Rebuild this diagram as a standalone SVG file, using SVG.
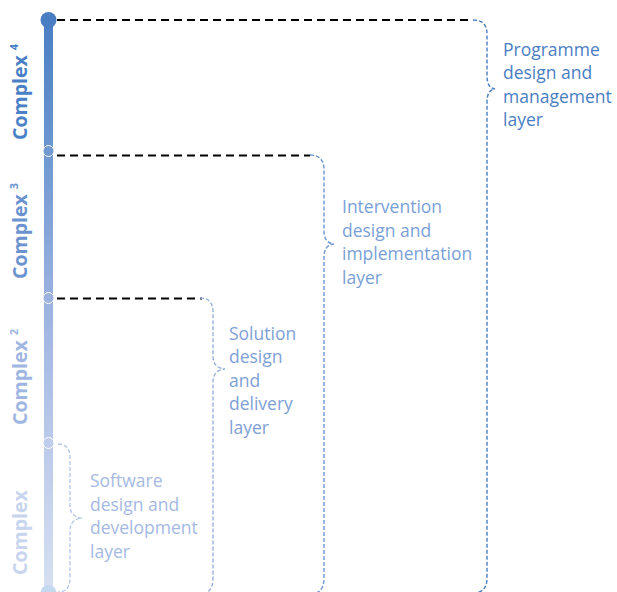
<svg xmlns="http://www.w3.org/2000/svg" width="617" height="592" viewBox="0 0 617 592">
<defs>
<linearGradient id="barGrad" x1="0" y1="20" x2="0" y2="592" gradientUnits="userSpaceOnUse">
<stop offset="0" stop-color="#4a7ec3"/>
<stop offset="0.25" stop-color="#7199d2"/>
<stop offset="0.5" stop-color="#9cb3e0"/>
<stop offset="0.75" stop-color="#bccbea"/>
<stop offset="1" stop-color="#d6e0f1"/>
</linearGradient>
</defs>
<style>
.lbl{font-family:"Open Sans","Noto Sans",sans-serif;font-size:17.5px}
.cx{font-family:"Open Sans","Noto Sans",sans-serif;font-size:19.5px;font-weight:bold}
.sup{font-size:11px}
.lead{fill:none;stroke:#000;stroke-width:2;stroke-dasharray:8 5}
.brace{fill:none;stroke-width:1.4;stroke-dasharray:4 2}
</style>
<g id="scale">
<rect x="44" y="20" width="9" height="572" fill="url(#barGrad)"/>
<circle cx="48.5" cy="20" r="8" fill="#4a7ec3"/>
<circle cx="48.5" cy="151" r="5.5" fill="#7199d2" stroke="#fff" stroke-width="1"/>
<circle cx="48.5" cy="298" r="5.5" fill="#9cb3e0" stroke="#fff" stroke-width="1"/>
<circle cx="48.5" cy="443" r="5.5" fill="#bdcdeb" stroke="#fff" stroke-width="1"/>
<circle cx="48.5" cy="593" r="8" fill="#c5d9ee"/>
</g>
<g id="complex-labels">
<text class="cx" fill="#4a80c6" transform="translate(27,140) rotate(-90)">Complex <tspan class="sup" dy="-9">4</tspan></text>
<text class="cx" fill="#6b93d0" transform="translate(27,279) rotate(-90)">Complex <tspan class="sup" dy="-9">3</tspan></text>
<text class="cx" fill="#a0b6e2" transform="translate(27,425) rotate(-90)">Complex <tspan class="sup" dy="-9">2</tspan></text>
<text class="cx" fill="#c8d5ee" transform="translate(27,575) rotate(-90)">Complex</text>
</g>
<g id="connectors">
<line class="lead" x1="57" y1="20" x2="470" y2="20"/>
<line class="lead" x1="57" y1="155.5" x2="310" y2="155.5"/>
<line class="lead" x1="57" y1="298.5" x2="202" y2="298.5"/>
<path class="brace" stroke="#4a7ec3" d="M473,20 Q487,20 487,34 L487,76 Q487,88 495,89 Q487,90 487,102 L487,578 Q487,593 473,593"/>
<path class="brace" stroke="#6f96d2" d="M310,155 Q324,155 324,170 L324,231 Q324,243 334,244 Q324,245 324,257 L324,578 Q324,594 310,594"/>
<path class="brace" stroke="#98b0df" d="M200,298 Q213,298 213,312 L213,356 Q213,368 225,369 Q213,370 213,382 L213,578 Q213,594 200,594"/>
<path class="brace" stroke="#b9c9ea" d="M58,444 Q70,444 70,458 L70,505 Q70,517 82,518 Q70,519 70,531 L70,578 Q70,592 58,592"/>
</g>
<g id="programme">
<text class="lbl" fill="#4a7ec3"><tspan x="503" y="55.5">Programme</tspan><tspan x="503" y="79">design and</tspan><tspan x="503" y="102.5">management</tspan><tspan x="503" y="126">layer</tspan></text>
</g>
<g id="intervention">
<text class="lbl" fill="#7a9fd7"><tspan x="342" y="213">Intervention</tspan><tspan x="342" y="236.5">design and</tspan><tspan x="342" y="260">implementation</tspan><tspan x="342" y="283.5">layer</tspan></text>
</g>
<g id="solution">
<text class="lbl" fill="#7e9fd6"><tspan x="229" y="339.5">Solution</tspan><tspan x="229" y="363">design</tspan><tspan x="229" y="386.5">and</tspan><tspan x="229" y="410">delivery</tspan><tspan x="229" y="433.5">layer</tspan></text>
</g>
<g id="software">
<text class="lbl" fill="#a5b9e2"><tspan x="90" y="487">Software</tspan><tspan x="90" y="510.5">design and</tspan><tspan x="90" y="534">development</tspan><tspan x="90" y="557.5">layer</tspan></text>
</g>
</svg>
